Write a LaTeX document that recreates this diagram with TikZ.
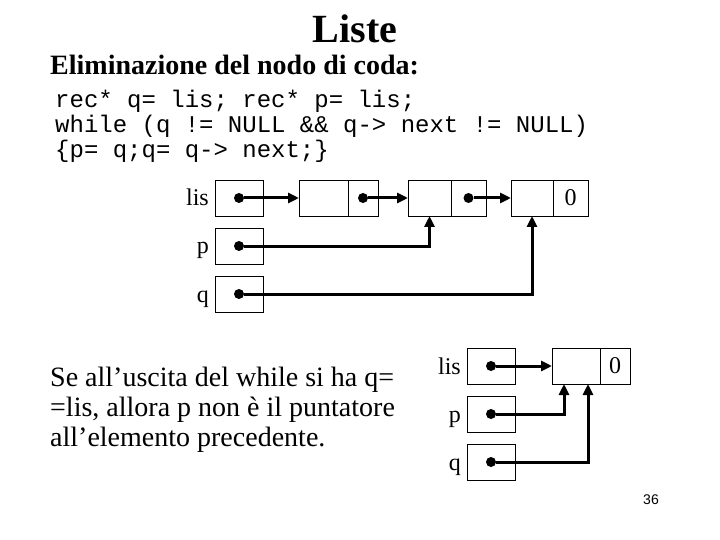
\documentclass[tikz,border=0pt]{standalone}
\usepackage{fontspec}
\setmainfont{Liberation Serif}
\newfontfamily\codefont{Liberation Mono}
\newfontfamily\pagefont{Liberation Sans}
\usetikzlibrary{positioning,arrows.meta}

\begin{document}
\begin{tikzpicture}[x=1pt, y=-1pt,
  ptr/.style={draw, line width=0.9pt, minimum width=48pt, minimum height=36pt, inner sep=0pt, outer sep=0pt},
  cell/.style={draw, line width=0.9pt, minimum height=36pt, inner sep=0pt, outer sep=0pt, font=\fontsize{24}{28}\selectfont},
  dot/.style={circle, fill, inner sep=0pt, minimum size=10pt},
  lbl/.style={anchor=base east, inner sep=0pt, font=\fontsize{24}{28}\selectfont},
  code/.style={anchor=base west, inner sep=0pt, font=\codefont\fontsize{24}{25}\selectfont},
  txt/.style={anchor=base west, inner sep=0pt, font=\fontsize{28}{30}\selectfont},
  link/.style={-{Triangle[length=11pt, width=10pt]}, line width=3pt}]
\useasboundingbox[fill=white] (0,0) rectangle (720,540);

\node[anchor=base, inner sep=0pt, font=\bfseries\fontsize{40}{44}\selectfont] (title) at (355,43) {Liste};
\node[txt, font=\bfseries\fontsize{28}{30}\selectfont] (sub) at (50,75) {Eliminazione del nodo di coda:};
\node[code] (code1) at (55,108) {rec* q= lis; rec* p= lis;};
\node[code] (code2) at (55,133) {while (q != NULL \&\& q-> next != NULL)};
\node[code] (code3) at (55,158) {\{p= q;q= q-> next;\}};

\node[ptr] (lis) at (239,198) {};
\node[ptr] (p)   at (239,246) {};
\node[ptr] (q)   at (239,294) {};
\node[lbl] (lislbl) at (209,206) {lis};
\node[lbl] (plbl)   at (209,254) {p};
\node[lbl] (qlbl)   at (209,302) {q};
\node[cell, minimum width=49pt] (n1a) at (323.5,198) {};
\node[cell, minimum width=30pt, right=0pt of n1a] (n1b) {};
\node[cell, minimum width=43pt] (n2a) at (429.5,198) {};
\node[cell, minimum width=35pt, right=0pt of n2a] (n2b) {};
\node[cell, minimum width=42pt] (n3a) at (532,198) {};
\node[cell, minimum width=35pt, right=0pt of n3a] (n3b) {0};
\node[dot] (lisd) at (lis) {};
\node[dot] (pd)   at (p) {};
\node[dot] (qd)   at (q) {};
\node[dot] (n1d)  at (n1b) {};
\node[dot] (n2d)  at (n2b) {};
\draw[link] (lisd) -- (n1a.west);
\draw[link] (n1d) -- (n2a.west);
\draw[link] (n2d) -- (n3a.west);
\draw[link] (pd) -| (n2a.south);
\draw[link] (qd) -| (n3a.south);

\node[txt] (expl1) at (50,386) {Se all’uscita del while si ha q=};
\node[txt] (expl2) at (50,416) {=lis, allora p non è il puntatore};
\node[txt] (expl3) at (50,446) {all’elemento precedente.};

\node[ptr] (lis2) at (491,366) {};
\node[ptr] (p2)   at (491,414) {};
\node[ptr] (q2)   at (491,462) {};
\node[lbl] (lis2lbl) at (461,374) {lis};
\node[lbl] (p2lbl)   at (461,422) {p};
\node[lbl] (q2lbl)   at (461,470) {q};
\node[cell, minimum width=48pt] (m1a) at (576,366) {};
\node[cell, minimum width=30pt, right=0pt of m1a] (m1b) {0};
\node[dot] (lis2d) at (lis2) {};
\node[dot] (p2d)   at (p2) {};
\node[dot] (q2d)   at (q2) {};
\draw[link] (lis2d) -- (m1a.west);
\draw[link] (p2d) -| ([xshift=12pt]m1a.south west);
\draw[link] (q2d) -| ([xshift=36pt]m1a.south west);

\node[font=\pagefont\fontsize{14}{16}\selectfont] (page) at (651,500) {36};
\end{tikzpicture}
\end{document}
